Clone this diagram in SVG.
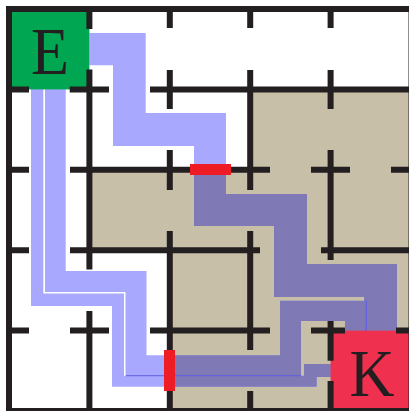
<svg xmlns="http://www.w3.org/2000/svg" width="409" height="411" viewBox="0 0 409 411">
<style>
.wall{fill:none;stroke:#231f20;stroke-width:6}
.light{fill:#a8a8ff}
.dark{fill:#7f79b5}
.seam{fill:#5c5ce0}
.door{fill:#ee1c25}
.glyph{font-family:"Liberation Serif",serif;font-size:68px;fill:#231f20;text-anchor:start}
</style>
<defs>
<clipPath id="tanClip"><path d="M250.2 89.4H409V411H169.8V250.2H89.4V169.8H250.2Z"/></clipPath>
<g id="routes">
<path id="routeC" d="M89.4 33H145.7V113H226V194H307V264H397V331H364V297H274V226H194V146H113V65.3H89.4Z"/>
<path id="routeB" d="M45 89H65.7V271H146.5V355.3H280V300.7H366V331H345V321H301V375.7H125.5V292H45Z"/>
<path id="routeA" d="M31 89H43.3V293.5H124V375.7H304V364H331V377H316.7V386.7H112V306H31Z"/>
</g>
</defs>
<rect width="409" height="411" fill="#fff"/>
<path id="tan" fill="#c7bfa8" d="M250.2 89.4H409V411H169.8V250.2H89.4V169.8H250.2Z"/>
<g id="connectors">
<use href="#routes" class="light"/>
<use href="#routes" class="dark" clip-path="url(#tanClip)"/>
<rect class="seam" x="126" y="375.2" width="175" height="1"/>
<rect class="seam" x="365.8" y="300.7" width="1" height="30"/>
</g>
<g id="node-E">
<rect x="9" y="9" width="80.4" height="80.4" fill="#00a651"/>
<text class="glyph" x="31" y="74" textLength="38" lengthAdjust="spacingAndGlyphs">E</text>
</g>
<g id="node-K">
<rect x="330.6" y="330.6" width="80" height="80.4" fill="#ef304f"/>
<text class="glyph" x="349.5" y="396" textLength="45" lengthAdjust="spacingAndGlyphs">K</text>
</g>
<g id="walls">
<path class="wall" d="M6 9H409M9 6V411M6 411H409"/>
<path class="wall" d="M89.4 6V29M89.4 69.5V269.5M89.4 311V411"/>
<path class="wall" d="M169.8 6V28M169.8 70V109M169.8 150V190M169.8 231V411"/>
<path class="wall" d="M250.2 6V28M250.2 70V190M250.2 231V350M250.2 391V411"/>
<path class="wall" d="M330.6 6V28M330.6 70V109M330.6 150V260M330.6 321V360.7M330.6 381V411"/>
<path class="wall" d="M6 89.4H29M69.7 89.4H109M150 89.4H409"/>
<path class="wall" d="M6 169.8H29M70 169.8H270M311 169.8H350M391 169.8H409"/>
<path class="wall" d="M6 250.2H29M70 250.2H260M321 250.2H409"/>
<path class="wall" d="M6 330.6H29M70 330.6H109M150 330.6H270M311 330.6H345M396 330.6H409"/>
<rect x="408.5" y="6" width="0.5" height="405" fill="#231f20"/>
</g>
<g id="doors">
<rect class="door" x="190" y="164" width="41" height="11"/>
<rect class="door" x="164" y="350" width="11" height="41"/>
</g>
</svg>
